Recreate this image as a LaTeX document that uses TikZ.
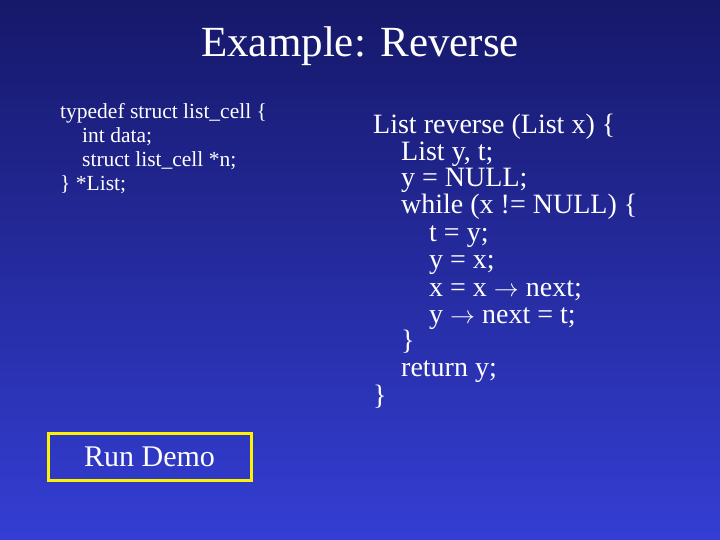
\documentclass[tikz,border=0pt]{standalone}
\usepackage{fontspec}
\setmainfont{Liberation Serif}
\begin{document}
\begin{tikzpicture}[x=1pt,y=-1pt,
  big/.style={anchor=base west,inner sep=0pt,text=white,font=\fontsize{28}{28}\selectfont},
  small/.style={anchor=base west,inner sep=0pt,text=white,font=\fontsize{21.5}{22}\selectfont}]
\definecolor{topc}{RGB}{22,24,105}
\definecolor{botc}{RGB}{52,62,212}
\shade[top color=topc,bottom color=botc] (0,0) rectangle (720,540);
\useasboundingbox (0,0) rectangle (720,540);
\node[text=white,inner sep=0pt,font=\fontsize{43}{43}\selectfont] (title) at (360,46) {Example: Reverse};
\node[small] (l1) at (60,119) {typedef struct list\_cell \{};
\node[small] (l2) at (82,143) {int data;};
\node[small] (l3) at (82,167) {struct list\_cell *n;};
\node[small] (l4) at (60,191) {\} *List;};
\node[big] (r1) at (373,134) {List reverse (List x) \{};
\node[big] (r2) at (401,161) {List y, t;};
\node[big] (r3) at (401,187) {y = NULL;};
\node[big] (r4) at (401,214) {while (x != NULL) \{};
\node[big] (r5) at (429,241) {t = y;};
\node[big] (r6) at (429,268) {y = x;};
\node[big] (r7) at (429,296) {x = x $\rightarrow$ next;};
\node[big] (r8) at (429,323) {y $\rightarrow$ next = t;};
\node[big] (r9) at (401,349) {\}};
\node[big] (r10) at (401,376) {return y;};
\node[big] (r11) at (373,404) {\}};
\node[draw=yellow,line width=3pt,minimum width=203pt,minimum height=47pt,text=white,font=\fontsize{30}{30}\selectfont] (demo) at (149.5,456.5) {Run Demo};
\end{tikzpicture}
\end{document}
